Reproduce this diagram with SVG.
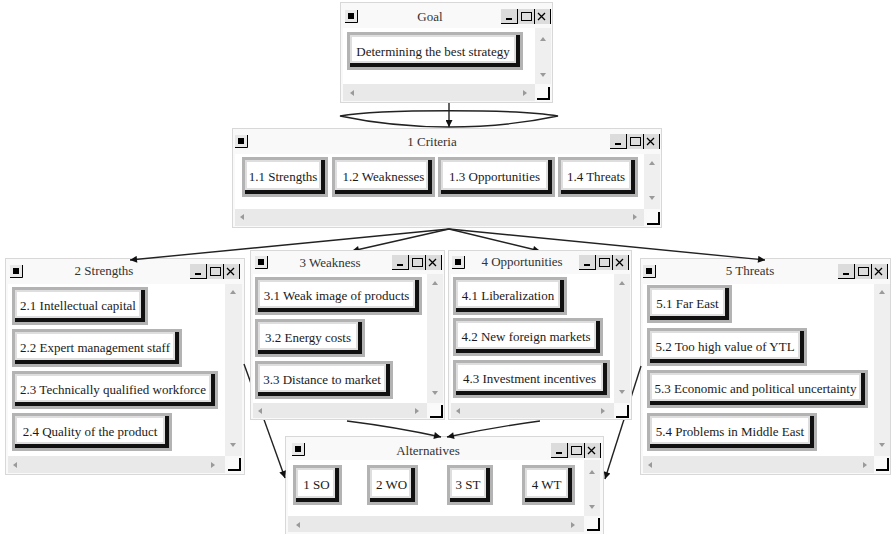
<svg xmlns="http://www.w3.org/2000/svg" width="891" height="534" viewBox="0 0 891 534">
<style>
.wo{fill:#f9f9f9;stroke:#d8d8d8;stroke-width:1}
.wc{fill:#fff}
.vs{fill:#efefef}
.hs{fill:#e9e9e9}
.fr{fill:#b3b3b3}
.sh{fill:#111}
.fc{fill:#fff;stroke:#dedede;stroke-width:2}
.bt{font-family:"Liberation Serif","Times New Roman",serif;font-size:13px;fill:#1a1a1a;text-anchor:middle}
.tt{font-family:"Liberation Serif","Times New Roman",serif;font-size:13px;fill:#333;text-anchor:middle}
.sa{fill:#9a9a9a}
.cn{fill:none;stroke:#222;stroke-width:1.4}
</style>
<defs>
<marker id="ah" viewBox="0 0 10 10" refX="10" refY="5" markerWidth="9" markerHeight="7" markerUnits="userSpaceOnUse" orient="auto">
<path d="M0,0 L10,5 L0,10 Z" fill="#111"/>
</marker>
<g id="ico">
<rect width="13" height="13" fill="#e8e8e8"/>
<rect x="3" y="3" width="6" height="6" fill="#000"/>
<path d="M12.5,0 V12.5 H0" fill="none" stroke="#000"/>
</g>
<g id="tb">
<rect width="50" height="15" fill="#dcdcdc"/>
<rect x="5" y="9" width="6" height="2" fill="#000"/>
<rect x="20.5" y="3.5" width="10" height="8" fill="none" stroke="#000"/>
<path d="M37,4 L44,11 M44,4 L37,11" stroke="#000" stroke-width="1.3"/>
<path d="M0,14.5 H16 M16.5,0 V15 M33.5,0 V15 M49.5,0 V15" stroke="#000" fill="none"/>
</g>
<g id="cr">
<rect width="13" height="13" fill="#fafafa"/>
<path d="M12,0 V12 H0" fill="none" stroke="#000" stroke-width="2"/>
</g>
<path id="au" class="sa" d="M-3,2 L0,-2 L3,2 Z"/>
<path id="ad" class="sa" d="M-3,-2 L0,2 L3,-2 Z"/>
<path id="al" class="sa" d="M2,-3 L-2,0 L2,3 Z"/>
<path id="ar" class="sa" d="M-2,-3 L2,0 L-2,3 Z"/>
</defs>

<g id="goal">
<rect class="wo" x="340.5" y="2.5" width="212" height="100"/>
<rect class="wc" x="343" y="28" width="192" height="56"/>
<rect class="vs" x="535" y="28" width="16" height="56"/>
<rect class="hs" x="343" y="84" width="192" height="17"/>
<use href="#ico" x="345" y="10"/>
<text class="tt" x="430" y="20.5">Goal</text>
<use href="#tb" x="501" y="9"/>
<use href="#au" x="543" y="39"/>
<use href="#ad" x="543" y="75"/>
<use href="#al" x="352" y="93"/>
<use href="#ar" x="525" y="93"/>
<use href="#cr" x="537" y="87"/>
<g id="goal-b1">
<rect class="fr" x="347" y="32" width="176" height="38"/>
<rect class="sh" x="350" y="35" width="170" height="32"/>
<rect class="fc" x="351" y="36" width="164" height="26"/>
<text class="bt" x="433" y="55.5">Determining the best strategy</text>
</g>
</g>

<g id="criteria">
<rect class="wo" x="232.5" y="128.5" width="429" height="99"/>
<rect class="wc" x="235" y="154" width="409" height="55"/>
<rect class="vs" x="644" y="154" width="16" height="55"/>
<rect class="hs" x="235" y="209" width="409" height="17"/>
<use href="#ico" x="235" y="135"/>
<text class="tt" x="432" y="146">1 Criteria</text>
<use href="#tb" x="610" y="134"/>
<use href="#au" x="652" y="163"/>
<use href="#ad" x="652" y="198"/>
<use href="#al" x="242" y="217"/>
<use href="#ar" x="635" y="217"/>
<use href="#cr" x="647" y="212"/>
<g id="c-11">
<rect class="fr" x="242" y="157" width="86" height="40"/>
<rect class="sh" x="245" y="160" width="80" height="34"/>
<rect class="fc" x="246" y="161" width="74" height="28"/>
<text class="bt" x="283" y="181">1.1 Strengths</text>
</g>
<g id="c-12">
<rect class="fr" x="332" y="157" width="103" height="40"/>
<rect class="sh" x="335" y="160" width="97" height="34"/>
<rect class="fc" x="336" y="161" width="91" height="28"/>
<text class="bt" x="383.5" y="181">1.2 Weaknesses</text>
</g>
<g id="c-13">
<rect class="fr" x="438" y="157" width="117" height="40"/>
<rect class="sh" x="441" y="160" width="111" height="34"/>
<rect class="fc" x="442" y="161" width="105" height="28"/>
<text class="bt" x="494.5" y="181">1.3 Opportunities</text>
</g>
<g id="c-14">
<rect class="fr" x="558" y="157" width="80" height="40"/>
<rect class="sh" x="561" y="160" width="74" height="34"/>
<rect class="fc" x="562" y="161" width="68" height="28"/>
<text class="bt" x="596" y="181">1.4 Threats</text>
</g>
</g>

<g id="strengths">
<rect class="wo" x="5.5" y="258.5" width="239" height="216"/>
<rect class="wc" x="8" y="284" width="217" height="172"/>
<rect class="vs" x="225" y="284" width="17" height="172"/>
<rect class="hs" x="8" y="456" width="217" height="17"/>
<use href="#ico" x="10" y="265"/>
<text class="tt" x="104" y="275">2 Strengths</text>
<use href="#tb" x="190" y="264"/>
<use href="#au" x="233" y="292"/>
<use href="#ad" x="233" y="445"/>
<use href="#al" x="15" y="465"/>
<use href="#ar" x="213" y="465"/>
<use href="#cr" x="228" y="458"/>
<g id="s-21">
<rect class="fr" x="12" y="287" width="136" height="38"/>
<rect class="sh" x="15" y="290" width="130" height="32"/>
<rect class="fc" x="16" y="291" width="124" height="26"/>
<text class="bt" x="78" y="309.5">2.1 Intellectual capital</text>
</g>
<g id="s-22">
<rect class="fr" x="12" y="329" width="170" height="38"/>
<rect class="sh" x="15" y="332" width="164" height="32"/>
<rect class="fc" x="16" y="333" width="158" height="26"/>
<text class="bt" x="95" y="351.5">2.2 Expert management staff</text>
</g>
<g id="s-23">
<rect class="fr" x="12" y="371" width="206" height="38"/>
<rect class="sh" x="15" y="374" width="200" height="32"/>
<rect class="fc" x="16" y="375" width="194" height="26"/>
<text class="bt" x="113" y="393.5">2.3 Technically qualified workforce</text>
</g>
<g id="s-24">
<rect class="fr" x="12" y="413" width="160" height="38"/>
<rect class="sh" x="15" y="416" width="154" height="32"/>
<rect class="fc" x="16" y="417" width="148" height="26"/>
<text class="bt" x="90" y="435.5">2.4 Quality of the product</text>
</g>
</g>

<g id="threats">
<rect class="wo" x="640.5" y="258.5" width="250" height="216"/>
<rect class="wc" x="643" y="284" width="231" height="172"/>
<rect class="vs" x="874" y="284" width="16" height="172"/>
<rect class="hs" x="643" y="456" width="231" height="17"/>
<use href="#ico" x="643" y="265"/>
<text class="tt" x="750" y="275">5 Threats</text>
<use href="#tb" x="838" y="264"/>
<use href="#au" x="882" y="292"/>
<use href="#ad" x="882" y="445"/>
<use href="#al" x="650" y="465"/>
<use href="#ar" x="865" y="465"/>
<use href="#cr" x="876" y="458"/>
<g id="t-51">
<rect class="fr" x="647" y="285" width="85" height="38"/>
<rect class="sh" x="650" y="288" width="79" height="32"/>
<rect class="fc" x="651" y="289" width="73" height="26"/>
<text class="bt" x="687.5" y="307.5">5.1 Far East</text>
</g>
<g id="t-52">
<rect class="fr" x="647" y="328" width="160" height="38"/>
<rect class="sh" x="650" y="331" width="154" height="32"/>
<rect class="fc" x="651" y="332" width="148" height="26"/>
<text class="bt" x="725" y="350.5">5.2 Too high value of YTL</text>
</g>
<g id="t-53">
<rect class="fr" x="647" y="370" width="221" height="38"/>
<rect class="sh" x="650" y="373" width="215" height="32"/>
<rect class="fc" x="651" y="374" width="209" height="26"/>
<text class="bt" x="755.5" y="392.5">5.3 Economic and political uncertainty</text>
</g>
<g id="t-54">
<rect class="fr" x="647" y="413" width="170" height="38"/>
<rect class="sh" x="650" y="416" width="164" height="32"/>
<rect class="fc" x="651" y="417" width="158" height="26"/>
<text class="bt" x="730" y="435.5">5.4 Problems in Middle East</text>
</g>
</g>

<g id="alternatives">
<rect class="wo" x="285.5" y="436.5" width="318" height="98"/>
<rect class="wc" x="288" y="460" width="296" height="56"/>
<rect class="vs" x="584" y="460" width="16" height="56"/>
<rect class="hs" x="288" y="516" width="296" height="16"/>
<use href="#ico" x="292" y="443"/>
<text class="tt" x="428" y="455">Alternatives</text>
<use href="#tb" x="551" y="443"/>
<use href="#au" x="592" y="472"/>
<use href="#ad" x="592" y="507"/>
<use href="#al" x="298" y="525"/>
<use href="#ar" x="573" y="525"/>
<use href="#cr" x="587" y="518"/>
<g id="a-1">
<rect class="fr" x="293" y="465" width="49" height="40"/>
<rect class="sh" x="296" y="468" width="43" height="34"/>
<rect class="fc" x="297" y="469" width="37" height="28"/>
<text class="bt" x="316.5" y="488.5">1 SO</text>
</g>
<g id="a-2">
<rect class="fr" x="367" y="465" width="51" height="40"/>
<rect class="sh" x="370" y="468" width="45" height="34"/>
<rect class="fc" x="371" y="469" width="39" height="28"/>
<text class="bt" x="391.5" y="488.5">2 WO</text>
</g>
<g id="a-3">
<rect class="fr" x="447" y="465" width="46" height="40"/>
<rect class="sh" x="450" y="468" width="40" height="34"/>
<rect class="fc" x="451" y="469" width="34" height="28"/>
<text class="bt" x="468" y="488.5">3 ST</text>
</g>
<g id="a-4">
<rect class="fr" x="522" y="465" width="53" height="40"/>
<rect class="sh" x="525" y="468" width="47" height="34"/>
<rect class="fc" x="526" y="469" width="41" height="28"/>
<text class="bt" x="546.5" y="488.5">4 WT</text>
</g>
</g>

<g id="connectors">
<path class="cn" d="M340,116 C380,109 518,109 558,116 C520,124 480,127 449,127 C418,127 378,124 340,116 Z"/>
<path class="cn" d="M449,103 V127" marker-end="url(#ah)"/>
<path class="cn" d="M449,229 L130,260" marker-end="url(#ah)"/>
<path class="cn" d="M449,229 L352,251" marker-end="url(#ah)"/>
<path class="cn" d="M449,229 L540,251" marker-end="url(#ah)"/>
<path class="cn" d="M449,229 L765,260" marker-end="url(#ah)"/>
<path class="cn" d="M244,364 L285,478" marker-end="url(#ah)"/>
<path class="cn" d="M641,366 L605,479" marker-end="url(#ah)"/>
<path class="cn" d="M347,421 Q395,427 441,437" marker-end="url(#ah)"/>
<path class="cn" d="M540,421 Q495,427 447,437" marker-end="url(#ah)"/>
</g>

<g id="weakness">
<rect class="wo" x="250.5" y="250.5" width="194" height="169"/>
<rect class="wc" x="253" y="274" width="174" height="129"/>
<rect class="vs" x="427" y="274" width="16" height="129"/>
<rect class="hs" x="253" y="403" width="174" height="15"/>
<use href="#ico" x="255" y="256"/>
<text class="tt" x="330" y="267">3 Weakness</text>
<use href="#tb" x="392" y="255"/>
<use href="#au" x="435" y="283"/>
<use href="#ad" x="435" y="393"/>
<use href="#al" x="260" y="411"/>
<use href="#ar" x="417" y="411"/>
<use href="#cr" x="430" y="405"/>
<g id="w-31">
<rect class="fr" x="255" y="277" width="167" height="38"/>
<rect class="sh" x="258" y="280" width="161" height="32"/>
<rect class="fc" x="259" y="281" width="155" height="26"/>
<text class="bt" x="336.5" y="299.5">3.1 Weak image of products</text>
</g>
<g id="w-32">
<rect class="fr" x="255" y="319" width="110" height="38"/>
<rect class="sh" x="258" y="322" width="104" height="32"/>
<rect class="fc" x="259" y="323" width="98" height="26"/>
<text class="bt" x="308" y="341.5">3.2 Energy costs</text>
</g>
<g id="w-33">
<rect class="fr" x="255" y="361" width="138" height="38"/>
<rect class="sh" x="258" y="364" width="132" height="32"/>
<rect class="fc" x="259" y="365" width="126" height="26"/>
<text class="bt" x="322" y="383.5">3.3 Distance to market</text>
</g>
</g>

<g id="opportunities">
<rect class="wo" x="448.5" y="250.5" width="183" height="169"/>
<rect class="wc" x="451" y="274" width="163" height="129"/>
<rect class="vs" x="614" y="274" width="16" height="129"/>
<rect class="hs" x="451" y="403" width="163" height="15"/>
<use href="#ico" x="452" y="256"/>
<text class="tt" x="522" y="266">4 Opportunities</text>
<use href="#tb" x="579" y="255"/>
<use href="#au" x="622" y="283"/>
<use href="#ad" x="622" y="392"/>
<use href="#al" x="458" y="411"/>
<use href="#ar" x="603" y="411"/>
<use href="#cr" x="616" y="405"/>
<g id="o-41">
<rect class="fr" x="453" y="277" width="114" height="38"/>
<rect class="sh" x="456" y="280" width="108" height="32"/>
<rect class="fc" x="457" y="281" width="102" height="26"/>
<text class="bt" x="508" y="299.5">4.1 Liberalization</text>
</g>
<g id="o-42">
<rect class="fr" x="453" y="318" width="150" height="38"/>
<rect class="sh" x="456" y="321" width="144" height="32"/>
<rect class="fc" x="457" y="322" width="138" height="26"/>
<text class="bt" x="526" y="340.5">4.2 New foreign markets</text>
</g>
<g id="o-43">
<rect class="fr" x="453" y="360" width="157" height="38"/>
<rect class="sh" x="456" y="363" width="151" height="32"/>
<rect class="fc" x="457" y="364" width="145" height="26"/>
<text class="bt" x="529.5" y="382.5">4.3 Investment incentives</text>
</g>
</g>
</svg>
